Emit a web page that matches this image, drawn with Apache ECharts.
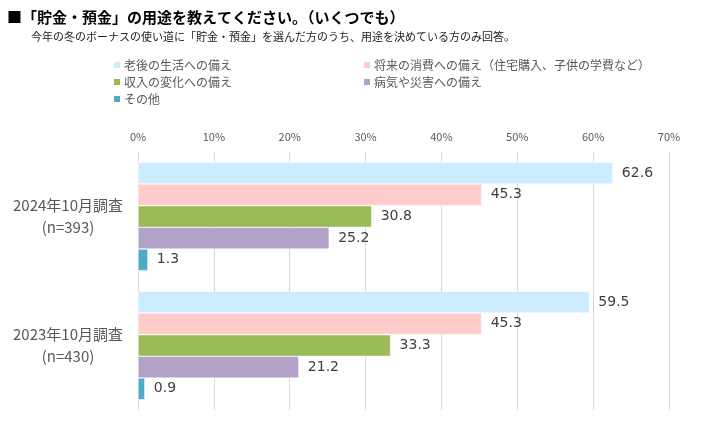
<!DOCTYPE html>
<html><head><meta charset="utf-8">
<script src="https://cdn.jsdelivr.net/npm/echarts@6/dist/echarts.min.js"></script>
<style>html,body{margin:0;padding:0;background:#fff}#c{width:706px;height:436px}</style>
</head><body><div id="c"></div>
<script>
const categories = ['2024年10月調査\n(n=393)', '2023年10月調査\n(n=430)'];
const seriesNames = ['老後の生活への備え', '将来の消費への備え（住宅購入、子供の学費など）', '収入の変化への備え', '病気や災害への備え', 'その他'];
const s1 = [62.6, 59.5];
const s2 = [45.3, 45.3];
const s3 = [30.8, 33.3];
const s4 = [25.2, 21.2];
const s5 = [1.3, 0.9];
const xTicks = [0, 10, 20, 30, 40, 50, 60, 70];
const colors = ['#CCECFF', '#FFCCCC', '#9BBB59', '#B3A2C7', '#4BACC6'];
const values = [s1, s2, s3, s4, s5];
const FONT = '"Noto Sans CJK JP", sans-serif';
const NUMFONT = '"DejaVu Sans", sans-serif';

const legendBase = {
  orient: 'vertical', itemWidth: 8, itemHeight: 8, itemGap: 3, icon: 'rect', padding: 0,
  textStyle: { fontSize: 12, lineHeight: 14, color: '#595959', fontFamily: FONT, padding: [0, 0, 0, -2] }
};

const chart = echarts.init(document.getElementById('c'));
chart.setOption({
  animation: false,
  textStyle: { fontFamily: FONT },
  title: [
    { text: '■「貯金・預金」の用途を教えてください。（いくつでも）', left: 2, top: 5,
      textStyle: { fontSize: 15, fontWeight: 'bold', color: '#000', fontFamily: FONT } },
    { text: '今年の冬のボーナスの使い道に「貯金・預金」を選んだ方のうち、用途を決めている方のみ回答。', left: 26, top: 26,
      textStyle: { fontSize: 11, fontWeight: 'normal', color: '#222', fontFamily: FONT } }
  ],
  legend: [
    Object.assign({}, legendBase, { left: 112, top: 58, data: [seriesNames[0], seriesNames[2], seriesNames[4]] }),
    Object.assign({}, legendBase, { left: 362, top: 58, data: [seriesNames[1], seriesNames[3]] })
  ],
  grid: { left: 138, right: 37, top: 152, bottom: 26, containLabel: false },
  xAxis: {
    type: 'value', position: 'top', min: 0, max: 70, interval: 10,
    axisLine: { show: false }, axisTick: { show: false },
    splitLine: { lineStyle: { color: '#d9d9d9', width: 1 } },
    axisLabel: { formatter: v => xTicks.includes(v) ? v + '%' : '', color: '#595959', fontSize: 11, margin: 10, fontFamily: FONT }
  },
  yAxis: {
    type: 'category', data: categories, inverse: true,
    axisLine: { show: false }, axisTick: { show: false },
    axisLabel: { color: '#595959', fontSize: 15, align: 'center', margin: 70, lineHeight: 22, fontFamily: FONT }
  },
  series: seriesNames.map((n, i) => ({
    name: n, type: 'bar', data: values[i],
    barGap: '0%', barCategoryGap: '16%',
    itemStyle: { color: colors[i], borderColor: '#fff', borderWidth: 0.5 },
    label: { show: true, position: 'right', distance: 9, color: '#404040', fontSize: 14,
      formatter: p => p.value.toFixed(1), fontFamily: NUMFONT }
  }))
});
</script></body></html>
